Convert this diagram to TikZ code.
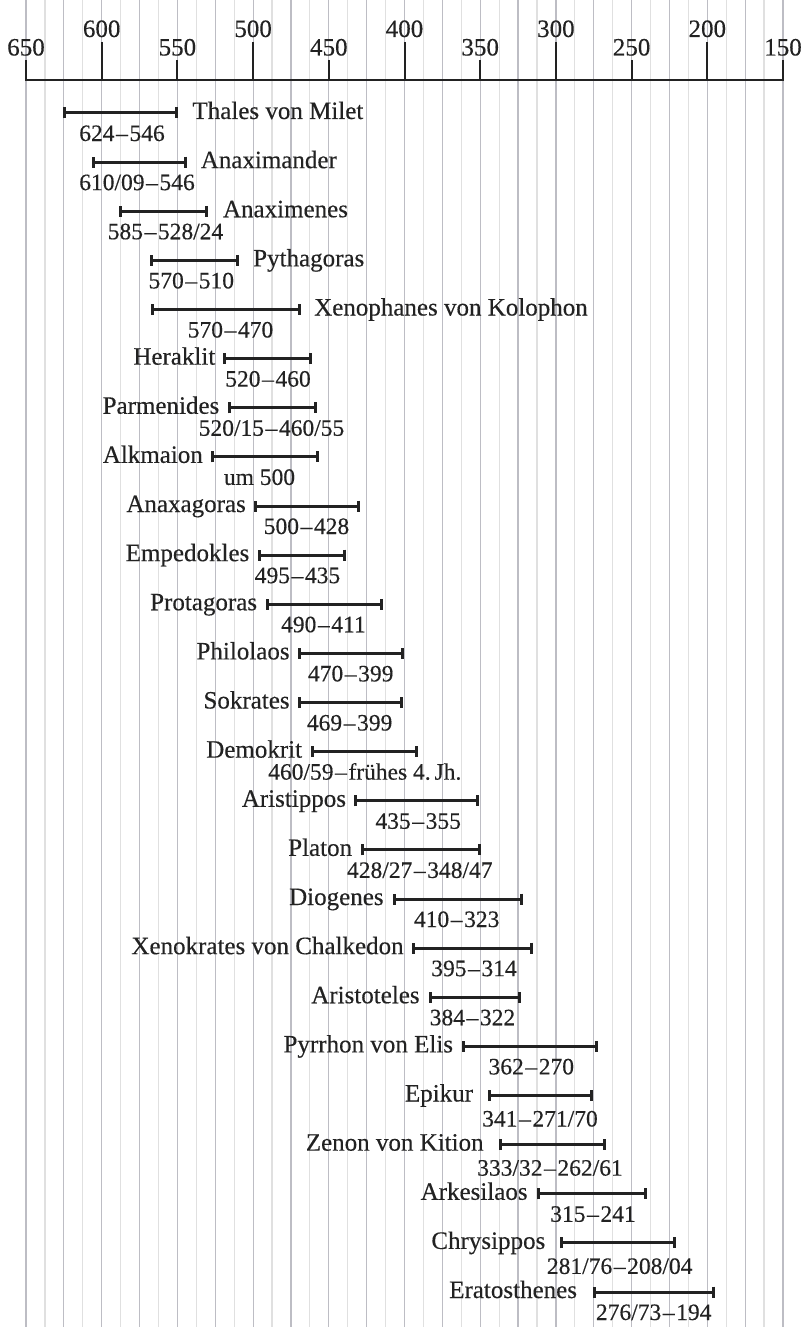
\documentclass[tikz,border=0pt]{standalone}
\usepackage{fontspec}
\setmainfont{Liberation Serif}
\newfontfamily\philfont{Liberation Serif}[FakeBold=0.35, Ligatures=TeX]
\usetikzlibrary{arrows.meta}
\definecolor{ink}{HTML}{222222}
\definecolor{gridD}{HTML}{BDBDC4}
\definecolor{gridL}{HTML}{E0E0E0}
\newcommand\yd{\hspace{1.6pt}\textendash\hspace{1.6pt}}
\tikzset{
  phil/.style={inner sep=0pt, text=ink, font=\philfont\fontsize{25}{30}\selectfont},
  yrlabel/.style={inner sep=0pt, text=ink, font=\philfont\fontsize{23.5}{28}\selectfont, anchor=base},
  axlabel/.style={inner sep=0pt, text=ink, font=\philfont\fontsize{25}{28}\selectfont, anchor=base},
  lifebar/.style={draw=ink, line width=3pt, arrows={Bar[width=11pt]-Bar[width=11pt]}},
  axisline/.style={draw=ink, line width=2pt},
  gridmajor/.style={draw=gridD, line width=1.2pt},
  gridminor/.style={draw=gridL, line width=1.2pt},
}
% #1 year-offset, #2 row, #3 x start, #4 x end, #5 name x, #6 name, #7 year centre x, #8 years
\newcommand\philright[8][28]{%
  \pgfmathsetmacro\philY{113+49.125*(#2-1)}%
  \coordinate (s#2) at (#3,\philY);
  \coordinate (e#2) at (#4,\philY);
  \draw[lifebar] (s#2) -- (e#2);
  \node[phil, anchor=base west] (n#2) at (#5,\philY+6) {#6};
  \node[yrlabel] (y#2) at (#7,\philY+#1) {#8};
}
\newcommand\philleft[8][28]{%
  \pgfmathsetmacro\philY{113+49.125*(#2-1)}%
  \coordinate (s#2) at (#3,\philY);
  \coordinate (e#2) at (#4,\philY);
  \draw[lifebar] (s#2) -- (e#2);
  \node[phil, anchor=base east] (n#2) at (#5,\philY+6) {#6};
  \node[yrlabel] (y#2) at (#7,\philY+#1) {#8};
}
\begin{document}
\begin{tikzpicture}[x=1pt, y=-1pt]
\useasboundingbox (0,0) rectangle (807,1327);
% grid
\foreach \k in {0,...,40}{
  \pgfmathsetmacro\gx{26+18.925*\k}
  \pgfmathtruncatemacro\godd{mod(\k,2)}
  \coordinate (gt\k) at (\gx,0);
  \coordinate (gb\k) at (\gx,1327);
  \ifnum\godd=1
    \draw[gridminor] (gt\k) -- (gb\k);
  \else
    \draw[gridmajor] (gt\k) -- (gb\k);
  \fi
}
% axis
\coordinate (axL) at (26,80);
\coordinate (axR) at (783,80);
\foreach \j in {0,...,10}{
  \pgfmathsetmacro\tx{26+75.7*\j}
  \pgfmathtruncatemacro\tyear{650-50*\j}
  \pgfmathtruncatemacro\todd{mod(\j,2)}
  \coordinate (ta\j) at (\tx,80);
  \ifnum\todd=1
    \coordinate (tk\j) at (\tx,42);
    \node[axlabel] (tl\j) at (\tx,37) {\tyear};
  \else
    \coordinate (tk\j) at (\tx,60);
    \node[axlabel] (tl\j) at (\tx,55.5) {\tyear};
  \fi
  \draw[axisline] (tk\j) -- (ta\j);
}
\draw[axisline, line cap=rect] (axL) -- (axR);
% philosophers
\philright{1}{63}{178.3}{192.3}{Thales von Milet}{122}{624\yd546}
\philright{2}{92.3}{186.7}{200.6}{Anaximander}{137}{610/09\yd546}
\philright{3}{119}{208.3}{222.8}{Anaximenes}{165.5}{585\yd528/24}
\philright{4}{150}{239}{253}{Pythagoras}{191.3}{570\yd510}
\philright{5}{151}{300.7}{314}{Xenophanes von Kolophon}{230.5}{570\yd470}
\philleft{6}{223}{312}{215.5}{Heraklit}{268}{520\yd460}
\philleft{7}{228}{317}{219.5}{Parmenides}{271.5}{520/15\yd460/55}
\philleft{8}{211.4}{318.6}{203}{Alkmaion}{259.5}{um 500}
\philleft{9}{253.6}{360.4}{246}{Anaxagoras}{306.5}{500\yd428}
\philleft{10}{258}{346.4}{249.5}{Empedokles}{297.5}{495\yd435}
\philleft{11}{265.7}{383}{257.3}{Protagoras}{323.4}{490\yd411}
\philleft{12}{298.2}{403.6}{289.8}{Philolaos}{350.7}{470\yd399}
\philleft{13}{297.5}{402.5}{289.8}{Sokrates}{349.6}{469\yd399}
\philleft{14}{310.7}{418}{302.3}{Demokrit}{364.8}{460/59\yd frühes 4.\,Jh.}
\philleft{15}{353.6}{478.6}{346.2}{Aristippos}{418.2}{435\yd355}
\philleft{16}{361.4}{481.4}{352.3}{Platon}{419.8}{428/27\yd348/47}
\philleft{17}{393.3}{522.7}{383.8}{Diogenes}{456.7}{410\yd323}
\philleft{18}{411.7}{532.7}{403.8}{Xenokrates von Chalkedon}{474}{395\yd314}
\philleft{19}{429}{520.7}{419.8}{Aristoteles}{472.5}{384\yd322}
\philleft{20}{461.7}{598.3}{453.2}{Pyrrhon von Elis}{531.3}{362\yd270}
\philleft[31]{21}{488.3}{593.3}{473.2}{Epikur}{540}{341\yd271/70}
\philleft[31]{22}{498.7}{606}{483.8}{Zenon von Kition}{550}{333/32\yd262/61}
\philleft{23}{536.7}{646.7}{527.8}{Arkesilaos}{593}{315\yd241}
\philleft[31]{24}{560}{675.7}{545.5}{Chrysippos}{619.7}{281/76\yd208/04}
\philleft{25}{593}{715}{577.2}{Eratosthenes}{653.7}{276/73\yd194}
\end{tikzpicture}
\end{document}
